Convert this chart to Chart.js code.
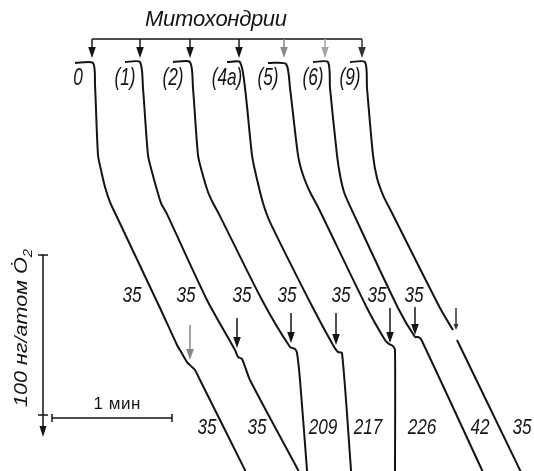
<!DOCTYPE html>
<html>
<head>
<meta charset="utf-8">
<script src="https://cdn.jsdelivr.net/npm/chart.js@4"></script>
<style>
  html, body { margin: 0; padding: 0; background: #fff; }
</style>
</head>
<body>
<canvas id="chart" width="534" height="471"></canvas>
<script>
// oxygen electrode traces
// x = time (s), y = O2 taken up (ng-atom O), paper scale: 1 min = 120 px, 100 ng-atom = 160 px
const trace0 = [[37.5,39.4],[46.5,39.4],[47.5,53.1],[49,96.9],[50.5,106.3],[52.5,116.9],[55,126.3],[58,134.4],[80,192.5],[88.5,215.6],[90,218.8],[93.5,226.3],[96,229.4],[97.5,231.3],[100,237.5],[122.5,293.8],[123,295]];
const trace1 = [[62.5,38.8],[70,38.8],[71.5,55],[74,96.9],[76,107.5],[78.5,118.8],[80.5,126.9],[83.5,133.8],[103.5,187.5],[117.5,218.8],[119,223.1],[121,224.4],[125,237.5],[148.5,292.5],[149.5,295]];
const trace2 = [[86.5,38.8],[95,38.8],[96.5,55],[99,96.9],[101,107.5],[104,120],[106.5,126.9],[109.5,133.8],[131,187.5],[145,216.9],[147.5,218.1],[148.5,220.6],[150,237.5],[153.5,293.8],[153.6,295]];
const trace4a = [[113.5,38.8],[120,38.8],[122.5,55],[126,96.9],[128,109.4],[131.5,126.9],[135,138.8],[156.5,192.5],[166.5,215.6],[169,220],[171,220.6],[175.5,293.8],[175.5,295]];
const trace5 = [[134,39.4],[143,40],[145,55],[149,96.9],[151.5,109.4],[155,120],[159,129.4],[183.5,192.5],[192.5,212.5],[194.5,215],[196.5,216.3],[197.5,218.8],[197.5,295]];
const trace6 = [[156.5,38.8],[164,38.8],[165,55],[168.5,96.9],[170,109.4],[172,120],[175,128.8],[199,192.5],[207.5,210.6],[209,210.6],[210.5,211.9],[241,293.8],[241.5,295]];
const trace9 = [[175,38.8],[182.5,38.8],[183.5,55],[186.5,96.9],[188.5,111.3],[191.5,121.9],[195.5,131.9],[220,192.5],[226.5,206.3],[228,null],[228.5,212.5],[260,293.8],[260.5,295]];

const traces = [trace0, trace1, trace2, trace4a, trace5, trace6, trace9];
const traceNames = ['0', '(1)', '(2)', '(4a)', '(5)', '(6)', '(9)'];

// mitochondria added (time, s)
const mitoT = [46, 70, 95, 119.5, 142, 162.5, 181];
// substrate additions: time, arrow start, arrow tip (ng-atom O)
const addT = [95, 118.5, 145.5, 168, 195, 207.5, 228];
const addFrom = [203.1, 198.8, 195.6, 195.6, 192.5, 191.9, 192.5];
const addTo = [225, 217.5, 214.4, 215.6, 214.4, 209.4, 206.3];

// rates (ng-atom O/min) before and after addition
const rateBefore = ['35', '35', '35', '35', '35', '35', '35'];
const rateBeforeT = [66, 93, 121, 143.5, 170.5, 188.5, 207];
const rateAfter = ['35', '35', '209', '217', '226', '42', '35'];
const rateAfterT = [103.5, 128.5, 161.5, 184, 211, 240, 261];

const ink = '#141414';

const datasets = traces.map((tr, i) => ({
    label: traceNames[i],
    data: tr.map(p => ({ x: p[0], y: p[1] })),
    showLine: true,
    borderColor: ink,
    borderWidth: 2,
    pointRadius: 0,
    tension: 0.25,
    spanGaps: false
}));

function textAt(ctx, str, x, y, size, sx, italic, color) {
    ctx.save();
    ctx.font = (italic ? 'italic ' : '') + size + 'px "Liberation Sans", Arial, sans-serif';
    ctx.fillStyle = color || ink;
    ctx.textAlign = 'center';
    ctx.textBaseline = 'middle';
    ctx.translate(x, y);
    ctx.scale(sx, 1);
    ctx.fillText(str, 0, 0);
    ctx.restore();
}

function spacedText(ctx, str, cx, y, size, width, italic) {
    ctx.save();
    ctx.font = (italic ? 'italic ' : '') + size + 'px "Liberation Sans", Arial, sans-serif';
    ctx.fillStyle = ink;
    ctx.textBaseline = 'middle';
    ctx.textAlign = 'left';
    const chars = Array.from(str);
    const w = chars.map(c => ctx.measureText(c).width);
    const total = w.reduce((a, b) => a + b, 0);
    const gap = (width - total) / (chars.length - 1);
    let x = cx - width / 2;
    chars.forEach((c, i) => { ctx.fillText(c, x, y); x += w[i] + gap; });
    ctx.restore();
}

function arrowDown(ctx, x, y1, y2, color, lw, len, half) {
    ctx.save();
    ctx.strokeStyle = color;
    ctx.fillStyle = color;
    ctx.lineWidth = lw;
    ctx.beginPath();
    ctx.moveTo(x, y1);
    ctx.lineTo(x, y2 - len + 1);
    ctx.stroke();
    ctx.beginPath();
    ctx.moveTo(x - half, y2 - len);
    ctx.lineTo(x + half, y2 - len);
    ctx.lineTo(x, y2);
    ctx.closePath();
    ctx.fill();
    ctx.restore();
}

const annotations = {
    id: 'annotations',
    afterDatasetsDraw(chart) {
        const ctx = chart.ctx;
        const X = v => chart.scales.x.getPixelForValue(v);
        const Y = v => chart.scales.y.getPixelForValue(v);

        // Митохондрии bracket with arrows
        spacedText(ctx, 'Митохондрии', X(108), Y(12.5), 22, 142, true);
        ctx.save();
        ctx.strokeStyle = ink;
        ctx.lineWidth = 1.5;
        ctx.beginPath();
        ctx.moveTo(X(mitoT[0]), Y(24.4));
        ctx.lineTo(X(mitoT[mitoT.length - 1]), Y(24.4));
        ctx.stroke();
        ctx.restore();
        const mitoColors = [ink, ink, ink, ink, '#8a8a8a', '#a5a5a5', '#333'];
        mitoT.forEach((t, i) => arrowDown(ctx, X(t), Y(24.4), Y(36.3), mitoColors[i], 1.5, 11, 3.8));

        // trace names
        traceNames.forEach((n, i) => {
            const x0 = traces[i][0][0];
            textAt(ctx, n, X(x0 + (n === '0' ? 1.5 : 0)), Y(49), 24, 0.72, true);
        });

        // substrate addition arrows
        const addColors = ['#858585', ink, ink, ink, ink, ink, '#333'];
        addT.forEach((t, i) => arrowDown(ctx, X(t), Y(addFrom[i]), Y(addTo[i]), addColors[i], 1.5, i === 6 ? 6 : 11, i === 6 ? 2.5 : 3.8));

        // rate labels
        rateBefore.forEach((r, i) => textAt(ctx, r, X(rateBeforeT[i]), Y(185), 22, 0.78, true));
        rateAfter.forEach((r, i) => textAt(ctx, r, X(rateAfterT[i]), Y(267.5), 22, 0.78, true));

        // scale bars: 100 ng-atom O and 1 min
        ctx.save();
        ctx.strokeStyle = ink;
        ctx.lineWidth = 1.5;
        ctx.beginPath();
        ctx.moveTo(X(21.5), Y(159.4));
        ctx.lineTo(X(21.5), Y(259.4));
        ctx.moveTo(X(21.5) - 5, Y(159.4));
        ctx.lineTo(X(21.5) + 5, Y(159.4));
        ctx.moveTo(X(21.5) - 5, Y(259.4));
        ctx.lineTo(X(21.5) + 5, Y(259.4));
        ctx.moveTo(X(26), Y(261.3));
        ctx.lineTo(X(86), Y(261.3));
        ctx.moveTo(X(26), Y(261.3) - 4);
        ctx.lineTo(X(26), Y(261.3) + 4);
        ctx.moveTo(X(86), Y(261.3) - 4);
        ctx.lineTo(X(86), Y(261.3) + 4);
        ctx.stroke();
        ctx.restore();
        arrowDown(ctx, X(21.5), Y(259.4), Y(273.1), ink, 1.5, 11, 3.5);
        spacedText(ctx, '1 мин', X(58.5), Y(252.5), 17, 47, false);

        ctx.save();
        ctx.translate(X(11), Y(205));
        ctx.rotate(-Math.PI / 2);
        ctx.font = 'italic 19px "Liberation Sans", Arial, sans-serif';
        ctx.fillStyle = ink;
        ctx.textBaseline = 'middle';
        const main = '100 нг/атом Ȯ';
        const mw = ctx.measureText(main).width;
        ctx.font = 'italic 13px "Liberation Sans", Arial, sans-serif';
        const sw = ctx.measureText('2').width;
        const sx = 158 / (mw + sw);
        ctx.scale(sx, 1);
        const start = -(mw + sw) / 2;
        ctx.font = 'italic 19px "Liberation Sans", Arial, sans-serif';
        ctx.fillText(main, start, 0);
        ctx.font = 'italic 13px "Liberation Sans", Arial, sans-serif';
        ctx.fillText('2', start + mw, 6);
        ctx.restore();
    }
};

new Chart(document.getElementById('chart'), {
    type: 'scatter',
    data: { datasets: datasets },
    options: {
        responsive: false,
        animation: false,
        layout: { padding: 0 },
        plugins: { legend: { display: false }, tooltip: { enabled: false } },
        scales: {
            x: { type: 'linear', min: 0, max: 267, display: false },
            y: { type: 'linear', min: 0, max: 294.375, reverse: true, display: false }
        }
    },
    plugins: [annotations]
});
</script>
</body>
</html>
